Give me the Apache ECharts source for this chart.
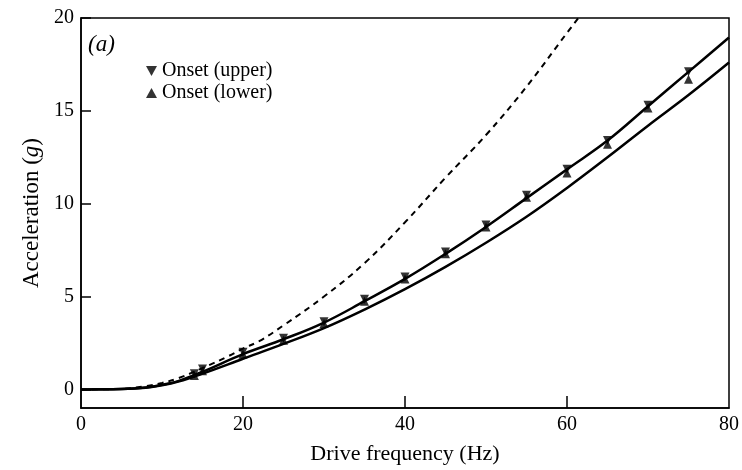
<!DOCTYPE html>
<html>
<head>
<meta charset="utf-8">
<script src="https://cdn.jsdelivr.net/npm/echarts@6/dist/echarts.min.js"></script>
<style>html,body{margin:0;padding:0;background:#fff}#c{width:742px;height:470px}</style>
</head>
<body>
<div id="c"></div>
<script>
// Upper solid curve (Hz, g)
var upperCurveF = [0, 5, 8, 10, 12, 15, 20, 25, 30, 35, 40, 45, 50, 55, 60, 65, 70, 75, 80];
var upperCurveA = [0, 0.02, 0.1, 0.25, 0.45, 0.95, 1.9, 2.7, 3.6, 4.75, 5.95, 7.3, 8.75, 10.3, 11.85, 13.4, 15.25, 17.1, 18.95];
// Lower solid curve
var lowerCurveF = [0, 5, 8, 10, 12, 15, 20, 25, 30, 35, 40, 45, 50, 55, 60, 65, 70, 75, 80];
var lowerCurveA = [0, 0.02, 0.09, 0.22, 0.42, 0.85, 1.65, 2.45, 3.3, 4.3, 5.4, 6.6, 7.9, 9.3, 10.85, 12.5, 14.2, 15.85, 17.6];
// Dashed curve
var dashedF = [0, 5, 8, 10, 12, 15, 18, 20, 22, 25, 30, 35, 40, 45, 50, 55, 60, 61.4, 62.5];
var dashedA = [0, 0.03, 0.18, 0.35, 0.6, 1.15, 1.75, 2.2, 2.6, 3.45, 5.0, 6.8, 9.0, 11.4, 13.7, 16.3, 19.2, 20.0, 20.7];
// Onset data points
var onsetF = [14, 15, 20, 25, 30, 35, 40, 45, 50, 55, 60, 65, 70, 75];
var onsetUpper = [0.85, 1.1, 2.0, 2.75, 3.65, 4.85, 6.05, 7.4, 8.85, 10.45, 11.85, 13.4, 15.3, 17.1];
var onsetLower = [0.75, 1.0, 1.9, 2.65, 3.55, 4.75, 5.95, 7.3, 8.75, 10.35, 11.65, 13.2, 15.15, 16.7];
var yTicks = [0, 5, 10, 15, 20];
var xTicks = [0, 20, 40, 60, 80];

function pairs(xs, ys){ return xs.map(function(x,i){ return [x, ys[i]]; }); }

var serif = '"Liberation Serif", "DejaVu Serif", serif';
var chart = echarts.init(document.getElementById('c'), null, {renderer:'canvas'});
chart.setOption({
  animation: false,
  backgroundColor: '#fff',
  grid: {left: 81, right: 12, top: 18, bottom: 62, show: true, borderColor: '#000', borderWidth: 1.5, backgroundColor: 'transparent'},
  xAxis: {
    type: 'value', min: 0, max: 80, interval: 20,
    name: 'Drive frequency (Hz)', nameLocation: 'middle', nameGap: 35,
    nameTextStyle: {fontFamily: serif, fontSize: 22, color: '#000'},
    axisLine: {show: true, onZero: false, lineStyle: {color: '#000', width: 1.5}},
    axisTick: {show: true, inside: true, length: 12, lineStyle: {color: '#000', width: 1.5}, customValues: [20, 40, 60]},
    axisLabel: {fontFamily: serif, fontSize: 20, color: '#000', margin: 7, customValues: xTicks},
    splitLine: {show: false}
  },
  yAxis: {
    type: 'value', min: -1, max: 20,
    name: 'Acceleration ({i|g})', nameLocation: 'middle', nameGap: 36,
    nameTextStyle: {fontFamily: serif, fontSize: 23, color: '#000',
      rich: {i: {fontFamily: serif, fontSize: 23, fontStyle: 'italic', color: '#000'}}},
    axisLine: {show: true, onZero: false, lineStyle: {color: '#000', width: 1.5}},
    axisTick: {show: true, inside: true, length: 10, lineStyle: {color: '#000', width: 1.5}, customValues: yTicks},
    axisLabel: {fontFamily: serif, fontSize: 20, color: '#000', margin: 7, customValues: yTicks},
    splitLine: {show: false}
  },
  legend: {
    orient: 'vertical', left: 141, top: 56, itemGap: 2, itemWidth: 11, itemHeight: 11,
    textStyle: {fontFamily: serif, fontSize: 20, color: '#000'},
    data: [
      {name: 'Onset (upper)', icon: 'path://M0,0L10,0L5,9Z'},
      {name: 'Onset (lower)', icon: 'path://M5,0L10,9L0,9Z'}
    ]
  },
  graphic: [{
    type: 'text', left: 88, top: 33,
    style: {text: '(a)', font: 'italic 23px ' + serif, fill: '#000'}
  }],
  series: [
    {type: 'line', name: 'dashed', data: pairs(dashedF, dashedA), smooth: 0.4, showSymbol: false,
     lineStyle: {color: '#000', width: 2, type: [6, 5]}, clip: true},
    {type: 'line', name: 'upper curve', data: pairs(upperCurveF, upperCurveA), smooth: 0.4, showSymbol: false,
     lineStyle: {color: '#000', width: 2.5}},
    {type: 'line', name: 'lower curve', data: pairs(lowerCurveF, lowerCurveA), smooth: 0.4, showSymbol: false,
     lineStyle: {color: '#000', width: 2.5}},
    {type: 'scatter', name: 'Onset (upper)', data: pairs(onsetF, onsetUpper), symbol: 'triangle', symbolRotate: 180, symbolSize: 9,
     itemStyle: {color: '#000'}},
    {type: 'scatter', name: 'Onset (lower)', data: pairs(onsetF, onsetLower), symbol: 'triangle', symbolSize: 9,
     itemStyle: {color: '#000'}}
  ]
});
</script>
</body>
</html>
